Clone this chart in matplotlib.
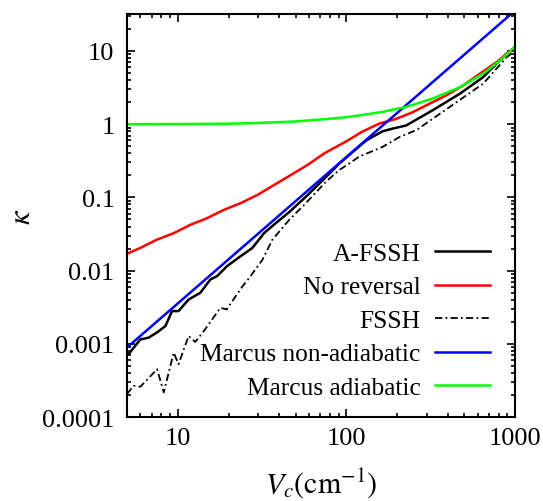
import numpy as np
from matplotlib import pyplot as plt
from matplotlib import ticker
from numpy import typing as npt

# A-FSSH
afssh_x = [5, 5.2, 6.0, 6.7, 7.5, 8.45, 9.25, 10.1, 11.6, 13.6, 15.6, 17.1, 19.6, 23.1, 27.7,
           32.5, 38.1, 45.8, 57.5, 75.7, 90.8, 104, 131, 164, 188, 226, 325, 471, 648, 891, 1000]
afssh_y = [0.0007, 0.00076, 0.00115, 0.00121, 0.00142, 0.00175, 0.0028, 0.0028, 0.00403, 0.00497,
           0.00755, 0.0084, 0.0115, 0.0152, 0.0204, 0.0325, 0.0445, 0.063, 0.102, 0.19, 0.29,
           0.38, 0.6, 0.8, 0.87, 0.96, 1.55, 2.61, 4.4, 9.2, 10.8]

# No reversal
norev_x = [5, 6, 7.5, 9.5, 11.9, 14.9, 18.8, 23.6, 29.7, 37.3, 46.8, 58.8, 74, 99.5, 124, 157,
           197, 246, 312, 392, 493, 620, 779, 1000]
norev_y = [0.017, 0.0204, 0.0264, 0.0326, 0.0423, 0.052, 0.0676, 0.0834, 0.108, 0.148, 0.202,
           0.277, 0.40, 0.58, 0.79, 1.02, 1.18, 1.45, 1.91, 2.48, 3.39, 4.9, 7.05, 11.3]

# FSSH
fssh_x = [5, 5.47, 6.0, 7.54, 8.26, 9.46, 10.1, 11.6, 12.7, 14.3, 17.9, 19.5, 24.2, 26.5, 31.8,
          36.4, 45.8, 57.5, 75.7, 90.8, 104, 119, 164, 207, 260, 410, 648, 891, 1000]
fssh_y = [0.000206, 0.000267, 0.000259, 0.00045, 0.000217, 0.00076, 0.000526, 0.00128, 0.00106,
          0.0015, 0.0031, 0.00295, 0.0061, 0.0079, 0.0141, 0.0264, 0.0494, 0.0834, 0.164, 0.237,
          0.29, 0.36, 0.49, 0.67, 0.83, 1.72, 3.58, 8.2, 10.0]

# Marcus non-adiabatic
mna_x = [5, 1000]
mna_y = [0.00089, 35.6]

# Marcus adiabatic
ma_x = [5, 10, 20, 30, 50, 74, 104, 164, 226, 325, 471, 648, 815, 1000]
ma_y = [1.0, 1.005, 1.015, 1.04, 1.09, 1.17, 1.26, 1.47, 1.72, 2.24, 3.2, 4.9, 7.4, 11.5]

x_ticks = [10, 100, 1000]
x_tick_labels = ["10", "100", "1000"]
y_ticks = [0.0001, 0.001, 0.01, 0.1, 1, 10]
y_tick_labels = ["0.0001", "0.001", "0.01", "0.1", "1", "10"]


def main() -> None:
    plt.rcParams["font.family"] = ["Liberation Serif", "DejaVu Serif"]
    plt.rcParams["mathtext.fontset"] = "stix"
    plt.rcParams["font.size"] = 19

    fig = plt.figure(figsize=(5.43, 5.02), dpi=100)
    ax0 = fig.add_axes((0.2339, 0.1673, 0.7145, 0.8028))

    ax0.plot(afssh_x, afssh_y, color="black", lw=1.8, label="A-FSSH")
    ax0.plot(norev_x, norev_y, color="#ff0000", lw=1.8, label="No reversal")
    ax0.plot(fssh_x, fssh_y, color="black", lw=1.3, dashes=(4, 1.8, 1, 1.8), label="FSSH")
    ax0.plot(mna_x, mna_y, color="#0000ff", lw=1.8, label="Marcus non-adiabatic")
    ax0.plot(ma_x, ma_y, color="#00ff00", lw=1.8, label="Marcus adiabatic")

    ax0.set_xscale("log")
    ax0.set_yscale("log")
    ax0.set_xlim(5, 1000)
    ax0.set_ylim(1e-4, 32)

    ax0.xaxis.set_major_locator(ticker.FixedLocator(x_ticks))
    ax0.xaxis.set_major_formatter(ticker.FixedFormatter(x_tick_labels))
    ax0.yaxis.set_major_locator(ticker.FixedLocator(y_ticks))
    ax0.yaxis.set_major_formatter(ticker.FixedFormatter(y_tick_labels))
    ax0.xaxis.set_minor_locator(ticker.LogLocator(base=10, subs=np.arange(2, 10)))
    ax0.yaxis.set_minor_locator(ticker.LogLocator(base=10, subs=np.arange(2, 10)))
    ax0.xaxis.set_minor_formatter(ticker.NullFormatter())
    ax0.yaxis.set_minor_formatter(ticker.NullFormatter())

    ax0.tick_params(which="both", direction="in", top=True, right=True, width=1.2)
    ax0.tick_params(which="major", length=6)
    ax0.tick_params(which="minor", length=3)
    ax0.tick_params(axis="y", which="major", pad=9)
    ax0.tick_params(axis="x", which="major", pad=7)
    for spine in ax0.spines.values():
        spine.set_linewidth(1.5)

    ax0.set_xlabel(r"$V_c(\mathrm{cm}^{-1})$", fontsize=21.5, labelpad=12)
    ax0.set_ylabel(r"$\kappa$", fontsize=22, labelpad=4)

    ax0.legend(
        loc="lower right",
        bbox_to_anchor=(0.935, 0.045),
        frameon=False,
        markerfirst=False,
        fontsize=18.3,
        handlelength=2.15,
        handletextpad=0.57,
        labelspacing=0.42,
        borderpad=0,
        borderaxespad=0,
    )

    fig.savefig("out.png", dpi=100)


if __name__ == "__main__":
    main()
